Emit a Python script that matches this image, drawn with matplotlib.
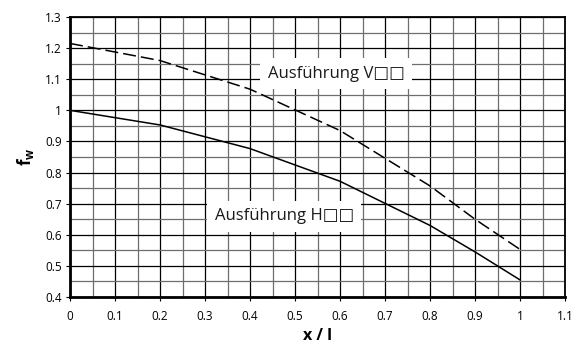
import matplotlib
matplotlib.use("Agg")
import matplotlib.pyplot as plt
from matplotlib.ticker import MultipleLocator

plt.rcParams['font.family'] = ['Open Sans', 'DejaVu Sans']
plt.rcParams['mathtext.fontset'] = 'custom'
plt.rcParams['mathtext.bf'] = 'Open Sans:bold'
plt.rcParams['mathtext.rm'] = 'Open Sans'

# Data
x_h = [0.0, 0.2, 0.4, 0.6, 0.8, 0.9, 1.0]
y_h = [1.0, 0.953, 0.877, 0.772, 0.630, 0.545, 0.455]
x_v = [0.0, 0.2, 0.4, 0.6, 0.8, 0.9, 1.0]
y_v = [1.215, 1.160, 1.068, 0.935, 0.757, 0.650, 0.553]
label_h = "Ausführung H□□"
label_v = "Ausführung V□□"
x_ticks = [0, 0.1, 0.2, 0.3, 0.4, 0.5, 0.6, 0.7, 0.8, 0.9, 1, 1.1]
x_tick_labels = ["0", "0.1", "0.2", "0.3", "0.4", "0.5", "0.6", "0.7", "0.8", "0.9", "1", "1.1"]
y_ticks = [0.4, 0.5, 0.6, 0.7, 0.8, 0.9, 1.0, 1.1, 1.2, 1.3]
y_tick_labels = ["0.4", "0.5", "0.6", "0.7", "0.8", "0.9", "1", "1.1", "1.2", "1.3"]

fig = plt.figure(figsize=(5.77, 3.47), dpi=100)
ax = fig.add_axes([70/577, 1-297/347, (565-70)/577, (297-17)/347])

ax.set_xlim(0, 1.1)
ax.set_ylim(0.4, 1.3)
ax.set_xticks(x_ticks)
ax.set_xticklabels(x_tick_labels)
ax.set_yticks(y_ticks)
ax.set_yticklabels(y_tick_labels)
ax.xaxis.set_minor_locator(MultipleLocator(0.05))
ax.yaxis.set_minor_locator(MultipleLocator(0.05))
ax.grid(which='major', color='black', linewidth=0.9, zorder=0)
ax.grid(which='minor', color='#6e6e6e', linewidth=0.9, zorder=0)
ax.set_axisbelow(True)
ax.tick_params(which='major', direction='out', length=3, width=0.8, labelsize=8.5, colors='black')
ax.tick_params(axis='x', which='major', pad=6)
ax.tick_params(axis='y', which='major', pad=3)
ax.tick_params(which='minor', length=0)
for s in ax.spines.values():
    s.set_linewidth(1.3)
ax.spines['left'].set_linewidth(2)
ax.spines['bottom'].set_linewidth(2)

ax.plot(x_h, y_h, color='black', linewidth=1.1, zorder=3)
ax.plot(x_v, y_v, color='black', linewidth=1.1, dashes=(8.5, 3.3), zorder=3)

bbox = dict(facecolor='white', edgecolor='none', boxstyle='square,pad=0.45')
ax.text(0.591, 1.117, label_v, fontsize=12, ha='center', va='center', bbox=bbox, zorder=4, color='#1a1a1a')
ax.text(0.476, 0.66, label_h, fontsize=12, ha='center', va='center', bbox=bbox, zorder=4, color='#1a1a1a')

ax.set_xlabel('x / l', fontsize=11.5, fontweight='bold', labelpad=4)
ax.set_ylabel(r'$\mathbf{f_w}$', fontsize=12, labelpad=6)

fig.savefig('out.png', dpi=100)
